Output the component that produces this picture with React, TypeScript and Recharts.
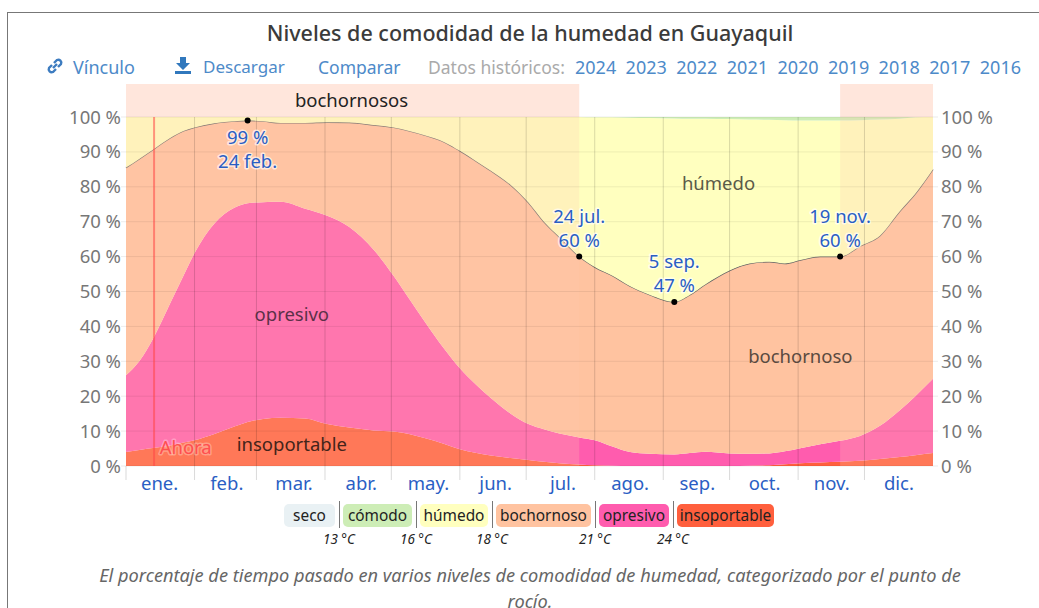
import { Area, ComposedChart, ReferenceArea, ReferenceDot, ReferenceLine, XAxis, YAxis } from "recharts";

const FONT = "'Noto Sans', sans-serif";

// day of the year, and the upper edge (%) of each comfort band on that day
const days = [0, 6, 13, 20, 26, 31, 40, 49, 55, 62, 70, 81, 91, 101, 112, 121, 128, 135, 144, 151, 158, 165, 174, 182, 189, 196, 205, 212, 220, 228, 237, 248, 255, 262, 273, 282, 291, 298, 305, 314, 323, 332, 341, 350, 357, 365];
const insoportableTop = [4, 4.6, 5.2, 5.9, 6.7, 7.4, 9.2, 11.3, 12.6, 13.5, 13.8, 13.6, 12, 11, 10.2, 9.9, 9.2, 8, 6.3, 4.8, 3.8, 3, 2.3, 1.7, 1.2, 0.8, 0.4, 0.2, 0.1, 0, 0, 0, 0, 0, 0, 0.1, 0.2, 0.5, 0.8, 1, 1.2, 1.5, 2, 2.6, 3.1, 3.7];
const opresivoTop = [26, 30, 37.4, 46.6, 54.5, 61, 69.5, 74, 75.3, 75.6, 75.7, 73.7, 71.7, 68.5, 62, 54.5, 48, 41.5, 33.5, 28, 23.5, 19.5, 15, 12, 10.5, 9.3, 8.2, 7.4, 5.6, 4, 3.5, 3.3, 3.7, 4.1, 3.6, 3.5, 3.6, 4.2, 5.1, 6.2, 7.2, 8.6, 11.5, 16, 20, 25];
const bochornosoTop = [85.5, 88, 91, 94, 96, 97, 98.2, 98.8, 99, 98.8, 98.3, 98.3, 98.5, 98.4, 97.7, 97, 96, 94.8, 92.8, 90.3, 87.5, 84.6, 80.5, 75.5, 70, 65.6, 60, 57, 54.5, 51.5, 49, 47, 49, 52, 56, 58, 58.5, 58, 59, 60, 60, 63, 66, 73, 78, 85];
const humedoTop = [100, 100, 100, 100, 100, 100, 100, 100, 100, 100, 100, 100, 100, 100, 100, 100, 100, 100, 100, 100, 100, 100, 100, 100, 100, 100, 100, 99.9, 99.9, 99.8, 99.7, 99.6, 99.5, 99.5, 99.4, 99.3, 99.2, 99.1, 99, 99, 99, 99.1, 99.3, 99.5, 99.9, 100];

const monthNames = ["ene.", "feb.", "mar.", "abr.", "may.", "jun.", "jul.", "ago.", "sep.", "oct.", "nov.", "dic."];
const monthStarts = [0, 31, 59, 90, 120, 151, 181, 212, 243, 273, 304, 334];
// labels sit evenly spaced, not on the true middle of each month
const monthMids = [15.2, 45.6, 76, 106.4, 136.8, 167.2, 197.6, 228, 258.4, 288.8, 319.2, 349.6];
const percentTicks = [0, 10, 20, 30, 40, 50, 60, 70, 80, 90, 100];

const peakDays = [55, 205, 248, 323];
const peakValues = [99, 60, 47, 60];
const peakDates = ["24 feb.", "24 jul.", "5 sep.", "19 nov."];
const nowDay = 12.7;
const muggyRanges = [[0, 205], [323, 365]];

const legendNames = ["seco", "cómodo", "húmedo", "bochornoso", "opresivo", "insoportable"];
const legendColors = ["#e9f1f4", "#cdedb6", "#ffffbf", "#ffc3a0", "#ff5cae", "#ff5f3d"];
const legendTemps = ["13 °C", "16 °C", "18 °C", "21 °C", "24 °C"];
const years = ["2024", "2023", "2022", "2021", "2020", "2019", "2018", "2017", "2016"];

const table = days.map((day, i) => ({
  day,
  insoportable: insoportableTop[i],
  opresivo: opresivoTop[i] - insoportableTop[i],
  bochornoso: bochornosoTop[i] - opresivoTop[i],
  humedo: humedoTop[i] - bochornosoTop[i],
  comodo: 100 - humedoTop[i],
}));

const Y_MAX = 109.46;
const BLUE = "#2a5ec4";
const LINK = "#4d8ac9";
const TEXT_SIZE = 18.5;

const halo = { paintOrder: "stroke", stroke: "rgba(255,255,255,0.65)", strokeWidth: 3, strokeLinejoin: "round" } as const;

function MonthTick({ x, y, payload }: any) {
  const i = monthMids.indexOf(payload.value);
  if (i < 0) return <line x1={x} x2={x} y1={y - 8} y2={y + 6} stroke="rgba(0,0,0,0.15)" />;
  return (
    <text x={x} y={y + 16} textAnchor="middle" fontSize={TEXT_SIZE} fontFamily={FONT} fill={BLUE}>
      {monthNames[i]}
    </text>
  );
}

// black dot with a two line note, date first when the note sits above the dot
function PeakDot({ cx, cy, index }: any) {
  const below = index === 0;
  const top = below ? [peakValues[index] + " %", peakDates[index]] : [peakDates[index], peakValues[index] + " %"];
  const y0 = below ? cy + 23 : cy - 34;
  return (
    <g>
      <circle cx={cx} cy={cy} r={3} fill="#000" />
      <text x={cx} y={y0} textAnchor="middle" fontSize={TEXT_SIZE} fontFamily={FONT} fill={BLUE} style={halo}>
        {top[0]}
      </text>
      <text x={cx} y={y0 + 24} textAnchor="middle" fontSize={TEXT_SIZE} fontFamily={FONT} fill={BLUE} style={halo}>
        {top[1]}
      </text>
    </g>
  );
}

function RegionText({ cx, cy, text, color, style }: any) {
  return (
    <text x={cx} y={cy} textAnchor="middle" dominantBaseline="middle" fontSize={TEXT_SIZE} fontFamily={FONT} fill={color} style={style}>
      {text}
    </text>
  );
}

const regionLabels = [
  { day: 102, pct: 104.3, text: "bochornosos", color: "#222" },
  { day: 268, pct: 80.5, text: "húmedo", color: "#5a5a48" },
  { day: 305, pct: 31, text: "bochornoso", color: "#5a4a40" },
  { day: 75, pct: 43, text: "opresivo", color: "#5c3048" },
  { day: 75, pct: 5.7, text: "insoportable", color: "#44241a" },
  { day: 27, pct: 4.9, text: "Ahora", color: "#ff4f4f" },
];

function Toolbar() {
  const item = { position: "absolute", top: 54, fontSize: 17.5, lineHeight: "26px", color: LINK, whiteSpace: "nowrap" } as const;
  return (
    <>
      <svg width={20} height={20} viewBox="0 0 20 20" style={{ position: "absolute", left: 45, top: 56 }}>
        <path d="M8 12 L12 8 M7 9 L4 12 a3 3 0 0 0 4 4 L11 13 M9 7 L12 4 a3 3 0 0 1 4 4 L13 11" fill="none" stroke="#3d7cc0" strokeWidth={2.4} />
      </svg>
      <span style={{ ...item, left: 73, fontSize: 18 }}>Vínculo</span>
      <svg width={18} height={18} viewBox="0 0 18 18" style={{ position: "absolute", left: 174, top: 56 }}>
        <path d="M6 1 H12 V7 H16 L9 14 L2 7 H6 Z M1 15 H17 V18 H1 Z" fill="#3178bd" />
      </svg>
      <span style={{ ...item, left: 203, fontSize: 17 }}>Descargar</span>
      <span style={{ ...item, left: 318 }}>Comparar</span>
      <span style={{ ...item, left: 428, color: "#aaa" }}>Datos históricos:</span>
      {years.map((y, i) => (
        <span key={y} style={{ ...item, left: 575 + i * 50.6, fontSize: 18 }}>
          {y}
        </span>
      ))}
    </>
  );
}

function Legend() {
  const lefts = [284, 343, 420, 496, 599, 677];
  const widths = [51, 69, 68, 95, 70, 97];
  return (
    <>
      {legendNames.map((name, i) => (
        <div
          key={name}
          style={{
            position: "absolute", left: lefts[i], top: 504, width: widths[i], height: 23, lineHeight: "23px",
            background: legendColors[i], borderRadius: 5, textAlign: "center", fontSize: 15.4, color: "#222", whiteSpace: "nowrap",
          }}
        >
          {name}
        </div>
      ))}
      {legendTemps.map((t, i) => (
        <div key={t}>
          <div style={{ position: "absolute", left: lefts[i + 1] - 4.5, top: 501, width: 1, height: 27, background: "#777" }} />
          <div
            style={{
              position: "absolute", left: lefts[i + 1] - 44, top: 530, width: 80, textAlign: "center",
              fontSize: 13.5, lineHeight: "18px", fontStyle: "italic", color: "#222",
            }}
          >
            {t}
          </div>
        </div>
      ))}
    </>
  );
}

export default function App() {
  const yTick = { fontSize: TEXT_SIZE, fontFamily: FONT, fill: "#777" };
  return (
    <div style={{ position: "absolute", left: 0, top: 0, width: 1039, height: 608, overflow: "hidden", background: "#fff", fontFamily: FONT }}>
      <div style={{ position: "absolute", left: 7, top: 12, right: 0, height: 640, borderTop: "1px solid #777", borderLeft: "1px solid #777" }} />
      <ComposedChart
        width={1039}
        height={608}
        data={table}
        margin={{ top: 84, right: 0, bottom: 0, left: 0 }}
        style={{ position: "absolute", left: 0, top: 0 }}
      >
        <XAxis
          dataKey="day"
          type="number"
          domain={[0, 365]}
          ticks={[...monthStarts, ...monthMids].sort((a, b) => a - b)}
          interval={0}
          height={142}
          axisLine={false}
          tickLine={false}
          tick={<MonthTick />}
        />
        <YAxis
          domain={[0, Y_MAX]}
          ticks={percentTicks}
          interval={0}
          allowDataOverflow
          width={126}
          axisLine={false}
          tickSize={5}
          tickMargin={0}
          tickLine={{ stroke: "rgba(0,0,0,0.08)" }}
          tick={yTick}
          tickFormatter={(v) => v + " %"}
        />
        <YAxis
          yAxisId="right"
          orientation="right"
          domain={[0, Y_MAX]}
          ticks={percentTicks}
          interval={0}
          allowDataOverflow
          width={106}
          axisLine={false}
          tickSize={5}
          tickMargin={3}
          tickLine={{ stroke: "rgba(0,0,0,0.08)" }}
          tick={yTick}
          tickFormatter={(v) => v + " %"}
        />
        <Area dataKey="insoportable" stackId="a" type="monotone" fill="#ff5f3d" fillOpacity={1} stroke="none" isAnimationActive={false} />
        <Area dataKey="opresivo" stackId="a" type="monotone" fill="#ff5cae" fillOpacity={1} stroke="none" isAnimationActive={false} />
        <Area dataKey="bochornoso" stackId="a" type="monotone" fill="#ffc3a0" fillOpacity={1} stroke="#666" strokeWidth={1.3} isAnimationActive={false} />
        <Area dataKey="humedo" stackId="a" type="monotone" fill="#ffffbf" fillOpacity={1} stroke="none" isAnimationActive={false} />
        <Area dataKey="comodo" stackId="a" type="monotone" fill="#cdedb6" fillOpacity={1} stroke="none" isAnimationActive={false} />
        {muggyRanges.map(([a, b]) => (
          <ReferenceArea key={a} x1={a} x2={b} y1={0} y2={100} fill="#ffc8af" fillOpacity={0.24} stroke="none" />
        ))}
        {muggyRanges.map(([a, b]) => (
          <ReferenceArea key={a} x1={a} x2={b} y1={100} y2={Y_MAX} fill="#ffe6dc" fillOpacity={1} stroke="none" />
        ))}
        {percentTicks.map((p) => (
          <ReferenceLine key={p} y={p} stroke="rgba(0,0,0,0.07)" />
        ))}
        {monthStarts.slice(1).map((d) => (
          <ReferenceLine key={d} segment={[{ x: d, y: 0 }, { x: d, y: 100 }]} stroke="rgba(0,0,0,0.15)" />
        ))}
        <ReferenceLine segment={[{ x: nowDay, y: 0 }, { x: nowDay, y: 100 }]} stroke="rgba(255,70,70,0.55)" strokeWidth={2} />
        {regionLabels.map((r) => (
          <ReferenceDot
            key={r.text}
            x={r.day}
            y={r.pct}
            shape={(p: any) => (
              <RegionText cx={p.cx} cy={p.cy} text={r.text} color={r.color} style={r.text === "Ahora" ? { ...halo, stroke: "rgba(255,255,255,0.3)" } : undefined} />
            )}
          />
        ))}
        {peakDays.map((d, i) => (
          <ReferenceDot key={d} x={d} y={peakValues[i]} shape={(p: any) => <PeakDot cx={p.cx} cy={p.cy} index={i} />} />
        ))}
      </ComposedChart>
      <div style={{ position: "absolute", left: 0, top: 17, width: 1060, textAlign: "center", fontSize: 21.5, lineHeight: "32px", fontWeight: 500, color: "#3b3b3b" }}>
        Niveles de comodidad de la humedad en Guayaquil
      </div>
      <Toolbar />
      <Legend />
      <div style={{ position: "absolute", left: 0, top: 562, width: 1060, textAlign: "center", fontSize: 18.2, lineHeight: "26px", fontStyle: "italic", color: "#666", whiteSpace: "nowrap" }}>
        El porcentaje de tiempo pasado en varios niveles de comodidad de humedad, categorizado por el punto de
        <br />
        rocío.
      </div>
    </div>
  );
}
